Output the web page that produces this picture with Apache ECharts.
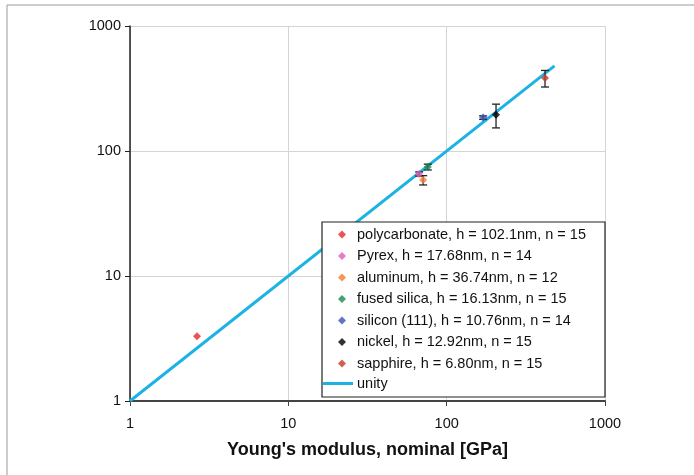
<!DOCTYPE html>
<html>
<head>
<meta charset="utf-8">
<script src="https://cdn.jsdelivr.net/npm/echarts@6/dist/echarts.min.js"></script>
<style>
  html, body { margin: 0; padding: 0; background: #fff; }
  #chart { width: 694px; height: 475px; }
</style>
</head>
<body>
<div id="chart"></div>
<script>
// materials, nominal modulus (x), measured modulus (y), error (+/-)
const materials = [
  "polycarbonate, h = 102.1nm, n = 15",
  "Pyrex, h = 17.68nm, n = 14",
  "aluminum, h = 36.74nm, n = 12",
  "fused silica, h = 16.13nm, n = 15",
  "silicon (111), h = 10.76nm, n = 14",
  "nickel, h = 12.92nm, n = 15",
  "sapphire, h = 6.80nm, n = 15"
];
const nominal = [2.65, 67, 71, 76, 170, 205, 418];
const measured = [3.3, 65.5, 58.5, 74.5, 185, 195, 383];
const errors = [0, 2.5, 5, 4, 6, 42, 58];
const colors = ["#e8282b", "#e060b8", "#f27a35", "#1d8a4c", "#3d52b0", "#000000", "#c23a2a"];
const unity = [[1, 1], [480, 480]];

const chart = echarts.init(document.getElementById("chart"), null, { renderer: "canvas" });

const font = "Liberation Sans, Arial, sans-serif";

const scatterSeries = materials.map((name, i) => ({
  name,
  type: "scatter",
  symbol: "diamond",
  symbolSize: 8,
  itemStyle: { color: colors[i] },
  data: [[nominal[i], measured[i]]],
  z: 5
}));

const errorSeries = {
  type: "custom",
  name: "errors",
  data: nominal.map((x, i) => [x, measured[i] - errors[i], measured[i] + errors[i]]),
  encode: { x: 0, y: [1, 2] },
  z: 3,
  renderItem: (params, api) => {
    if (api.value(2) === api.value(1)) return null;
    const x = api.value(0);
    const top = api.coord([x, api.value(2)]);
    const bot = api.coord([x, api.value(1)]);
    const w = 4;
    const style = { stroke: "#222", lineWidth: 1.3, fill: null };
    return {
      type: "group",
      children: [
        { type: "line", shape: { x1: top[0], y1: top[1], x2: bot[0], y2: bot[1] }, style },
        { type: "line", shape: { x1: top[0] - w, y1: top[1], x2: top[0] + w, y2: top[1] }, style },
        { type: "line", shape: { x1: bot[0] - w, y1: bot[1], x2: bot[0] + w, y2: bot[1] }, style }
      ]
    };
  }
};

const legendText = { fontFamily: font, fontSize: 14.5, color: "#111" };

chart.setOption({
  animation: false,
  backgroundColor: "#fff",
  textStyle: { fontFamily: font },
  graphic: [
    {
      type: "rect",
      shape: { x: 7, y: 5, width: 720, height: 520 },
      style: { fill: null, stroke: "#9a9a9a", lineWidth: 1 },
      silent: true
    },
    {
      type: "rect",
      shape: { x: 322, y: 222, width: 283, height: 175 },
      style: { fill: "#fff", stroke: "#222", lineWidth: 1.2 },
      z: 10,
      silent: true
    }
  ],
  grid: { left: 130, right: 89, top: 26, bottom: 74 },
  xAxis: {
    type: "log",
    logBase: 10,
    min: 1,
    max: 1000,
    name: "Young's modulus, nominal [GPa]",
    nameLocation: "middle",
    nameGap: 40,
    nameTextStyle: { fontFamily: font, fontSize: 18, fontWeight: "bold", color: "#111" },
    axisLine: { lineStyle: { color: "#444", width: 2 } },
    axisTick: { show: true, length: 5, lineStyle: { color: "#444" } },
    axisLabel: { fontFamily: font, fontSize: 14.5, color: "#111", margin: 15, formatter: (v) => String(v) },
    splitLine: { show: true, lineStyle: { color: "#d4d4d4", width: 1 } }
  },
  yAxis: {
    type: "log",
    logBase: 10,
    min: 1,
    max: 1000,
    axisLine: { lineStyle: { color: "#222", width: 1.5 } },
    axisTick: { show: true, length: 5, lineStyle: { color: "#222" } },
    axisLabel: { fontFamily: font, fontSize: 14.5, color: "#111", margin: 9, formatter: (v) => String(v) },
    splitLine: { show: true, lineStyle: { color: "#d4d4d4", width: 1 } }
  },
  legend: [
    {
      orient: "vertical",
      left: 333,
      top: 222,
      z: 20,
      itemWidth: 8,
      itemHeight: 8,
      itemGap: 6.5,
      icon: "diamond",
      textStyle: { ...legendText, padding: [0, 0, 0, 6] },
      data: materials
    },
    {
      orient: "vertical",
      left: 318,
      top: 371,
      z: 20,
      itemWidth: 30,
      itemHeight: 3,
      icon: "rect",
      textStyle: { ...legendText, padding: [0, 0, 0, -1] },
      data: ["unity"]
    }
  ],
  series: [
    errorSeries,
    ...scatterSeries,
    {
      name: "unity",
      type: "line",
      data: unity,
      showSymbol: false,
      symbol: "none",
      lineStyle: { color: "#1cb3e4", width: 3 },
      itemStyle: { color: "#1cb3e4" },
      z: 2
    }
  ]
});
</script>
</body>
</html>
